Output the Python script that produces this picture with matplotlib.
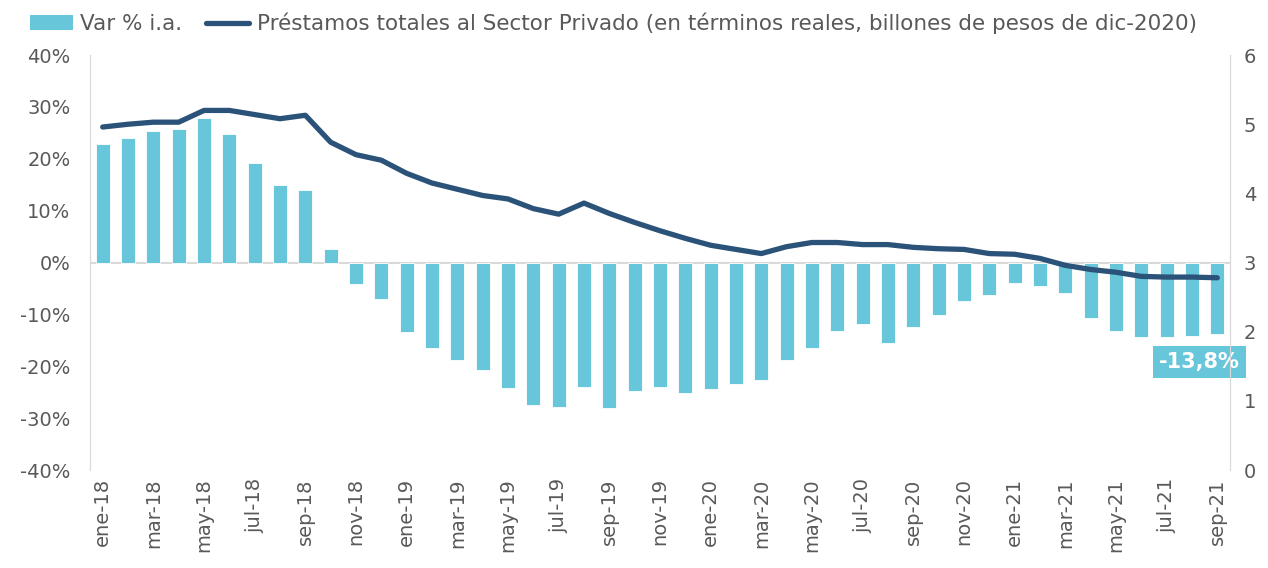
import matplotlib
matplotlib.use("Agg")
from matplotlib import pyplot as plt
from matplotlib.ticker import FuncFormatter
from matplotlib.lines import Line2D
from matplotlib.patches import Patch

months = ["ene", "feb", "mar", "abr", "may", "jun", "jul", "ago", "sep", "oct", "nov", "dic"]
labels = [f"{m}-{y}" for y in ["18", "19", "20", "21"] for m in months][:45]

# variacion % interanual (eje izq)
var_ia = [22.9, 24.0, 25.3, 25.8, 27.9, 24.8, 19.1, 15.0, 14.0, 2.7,
          -4.2, -7.1, -13.3, -16.5, -18.8, -20.7, -24.2, -27.5, -27.9, -24.0,
          -28.1, -24.8, -24.0, -25.2, -24.4, -23.5, -22.7, -18.7, -16.5, -13.1,
          -11.9, -15.6, -12.4, -10.2, -7.4, -6.2, -4.0, -4.5, -5.9, -10.6,
          -13.1, -14.4, -14.4, -14.1, -13.8]

# prestamos totales, billones de pesos dic-2020 (eje der)
prestamos = [4.96, 5.00, 5.03, 5.03, 5.20, 5.20, 5.14, 5.08, 5.13, 4.74,
             4.56, 4.48, 4.29, 4.15, 4.06, 3.97, 3.92, 3.78, 3.70, 3.86,
             3.71, 3.58, 3.46, 3.35, 3.25, 3.19, 3.13, 3.23, 3.29, 3.29,
             3.26, 3.26, 3.22, 3.20, 3.19, 3.13, 3.12, 3.06, 2.96, 2.90,
             2.86, 2.80, 2.79, 2.79, 2.78]

bar_color = "#67c6da"
line_color = "#2b5278"
text_color = "#595959"
plt.rcParams["font.family"] = ["DejaVu Sans"]

fig = plt.figure(figsize=(12.68, 5.68), dpi=100)
ax = fig.add_axes([0.071, 0.1725, 0.899, 0.7305])
ax2 = ax.twinx()

x = list(range(len(labels)))
ax.bar(x, var_ia, width=0.56, color=bar_color, edgecolor="white", linewidth=0.6, zorder=2)
ax.axhline(0, color="#d9d9d9", linewidth=1.5, zorder=1)
ax2.plot(x, prestamos, color=line_color, linewidth=3.8, solid_capstyle="round",
         solid_joinstyle="round", zorder=3)

ax.set_xlim(-0.5, len(labels) - 0.5)
ax.set_ylim(-40, 40)
ax.set_yticks(range(-40, 41, 10))
ax.yaxis.set_major_formatter(FuncFormatter(lambda v, p: f"{int(v)}%"))
ax2.set_ylim(0, 6)
ax2.set_yticks(range(0, 7))

ax.set_xticks(x[::2])
ax.set_xticklabels(labels[::2], rotation=90)

for a in (ax, ax2):
    for s in ("top", "bottom"):
        a.spines[s].set_visible(False)
    a.spines["left"].set_color("#d9d9d9")
    a.spines["right"].set_color("#d9d9d9")
    a.tick_params(axis="both", length=0, labelsize=14, colors=text_color, pad=8)
ax.tick_params(axis="y", pad=14)
ax.tick_params(axis="x", pad=6, labelsize=14)
ax2.tick_params(axis="y", pad=10)

# ultimo dato
ax.annotate(f"{var_ia[-1]:.1f}%".replace(".", ","), xy=(43.3, -19.2), ha="center", va="center",
            fontsize=15, fontweight="bold", color="white", annotation_clip=False, zorder=5,
            bbox=dict(boxstyle="square,pad=0.3", facecolor=bar_color, edgecolor="none"))

handles = [Patch(facecolor=bar_color, edgecolor="none"),
           Line2D([0], [0], color=line_color, linewidth=3.8, solid_capstyle="round")]
fig.legend(handles, ["Var % i.a.",
                     "Préstamos totales al Sector Privado (en términos reales, billones de pesos de dic-2020)"],
           loc="upper left", bbox_to_anchor=(0.008, 1.012), ncol=2, frameon=False,
           fontsize=15.5, labelcolor=text_color, handlelength=2.0, handletextpad=0.35,
           columnspacing=1.1)

plt.savefig("out.png", dpi=100)
